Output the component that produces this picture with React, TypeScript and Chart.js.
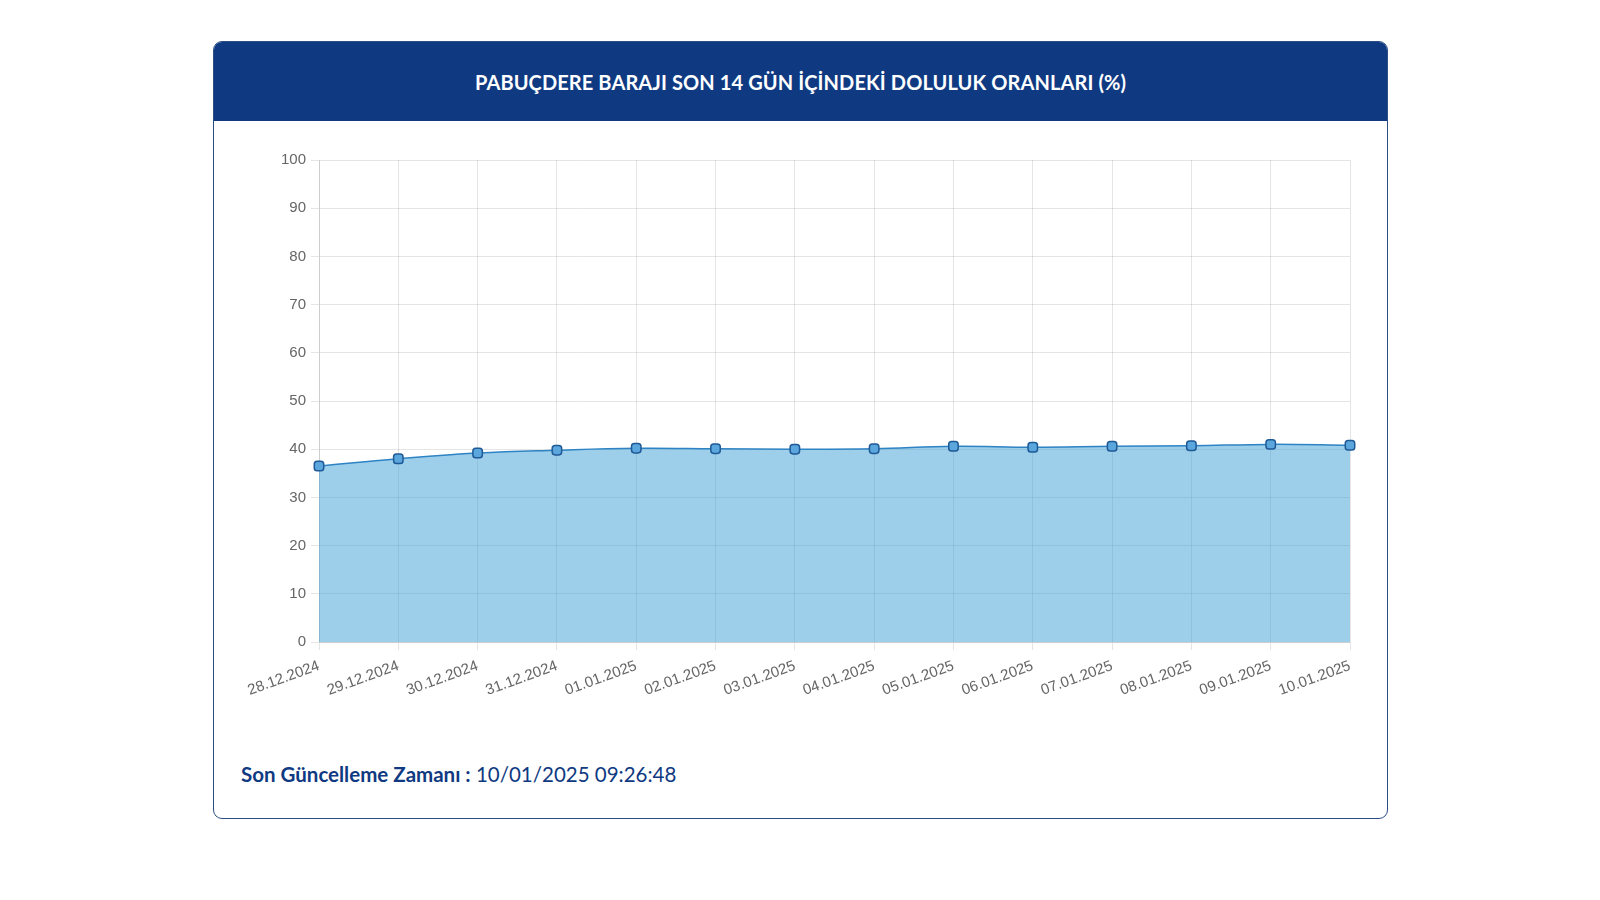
import React, { useEffect, useRef } from "react";
import { Chart, registerables } from "chart.js";

Chart.register(...registerables);

const titleText = "PABUÇDERE BARAJI SON 14 GÜN İÇİNDEKİ DOLULUK ORANLARI (%)";
const footerLabel = "Son Güncelleme Zamanı :";
const footerValue = "10/01/2025 09:26:48";

const dates = [
  "28.12.2024",
  "29.12.2024",
  "30.12.2024",
  "31.12.2024",
  "01.01.2025",
  "02.01.2025",
  "03.01.2025",
  "04.01.2025",
  "05.01.2025",
  "06.01.2025",
  "07.01.2025",
  "08.01.2025",
  "09.01.2025",
  "10.01.2025",
];

const fillRates = [36.5, 38.0, 39.2, 39.8, 40.2, 40.1, 40.0, 40.1, 40.6, 40.4, 40.6, 40.7, 41.0, 40.8];

const yMin = 0;
const yMax = 100;
const yStep = 10;

const NAVY = "#0f3a82";

export default function App() {
  const canvasRef = useRef<HTMLCanvasElement | null>(null);

  useEffect(() => {
    if (!canvasRef.current) return;
    const chart = new Chart(canvasRef.current, {
      type: "line",
      data: {
        labels: dates,
        datasets: [
          {
            label: "Doluluk",
            data: fillRates,
            fill: "origin",
            backgroundColor: "rgba(60,160,215,0.5)",
            borderColor: "#2e83c4",
            borderWidth: 1.5,
            tension: 0.4,
            pointStyle: "rectRounded",
            pointRadius: 5.5,
            pointBackgroundColor: "#5ba7dd",
            pointBorderColor: "#1f5a96",
            pointBorderWidth: 1.5,
          },
        ],
      },
      options: {
        responsive: false,
        maintainAspectRatio: false,
        animation: false,
        layout: { padding: { top: 40, right: 38, left: 0, bottom: 0 } },
        plugins: {
          legend: { display: false },
          tooltip: { enabled: false },
          title: { display: false },
        },
        scales: {
          x: {
            grid: { color: "rgba(0,0,0,0.1)", tickLength: 8 },
            border: { color: "rgba(0,0,0,0.1)" },
            ticks: {
              color: "#666",
              font: { family: "Arial, 'Liberation Sans', sans-serif", size: 15 },
              minRotation: 20,
              maxRotation: 20,
              autoSkip: false,
              padding: 7,
            },
            afterFit: (axis: any) => {
              axis.height = 98;
            },
          },
          y: {
            min: yMin,
            max: yMax,
            grid: { color: "rgba(0,0,0,0.1)", tickLength: 8 },
            border: { color: "rgba(0,0,0,0.1)" },
            ticks: {
              stepSize: yStep,
              color: "#666",
              font: { family: "Arial, 'Liberation Sans', sans-serif", size: 15 },
              padding: 5,
            },
            afterFit: (axis: any) => {
              axis.width = 106;
            },
          },
        },
      },
    });
    return () => chart.destroy();
  }, []);

  return (
    <div
      style={{
        position: "absolute",
        left: 0,
        top: 0,
        width: 1600,
        height: 900,
        background: "#fff",
        overflow: "hidden",
      }}
    >
      <div
        style={{
          position: "absolute",
          left: 213,
          top: 41,
          width: 1175,
          height: 778,
          boxSizing: "border-box",
          border: `1.5px solid #2b4f85`,
          borderRadius: 9,
          overflow: "hidden",
          background: "#fff",
        }}
      >
        <div
          style={{
            height: 79,
            background: NAVY,
            color: "#fff",
            display: "flex",
            alignItems: "center",
            justifyContent: "center",
            fontFamily: "Lato, 'Noto Sans', sans-serif",
            fontWeight: 700,
            fontSize: 20,
            letterSpacing: 0.1,
          }}
        >
          {titleText}
        </div>
      </div>
      <canvas
        ref={canvasRef}
        width={1175}
        height={620}
        style={{ position: "absolute", left: 213, top: 120, width: 1175, height: 620 }}
      />
      <div
        style={{
          position: "absolute",
          left: 241,
          top: 762,
          fontFamily: "Lato, 'Noto Sans', sans-serif",
          fontSize: 20.5,
          color: NAVY,
          whiteSpace: "nowrap",
        }}
      >
        <span style={{ fontWeight: 700 }}>{footerLabel}</span>
        <span style={{ fontWeight: 400 }}> {footerValue}</span>
      </div>
    </div>
  );
}
